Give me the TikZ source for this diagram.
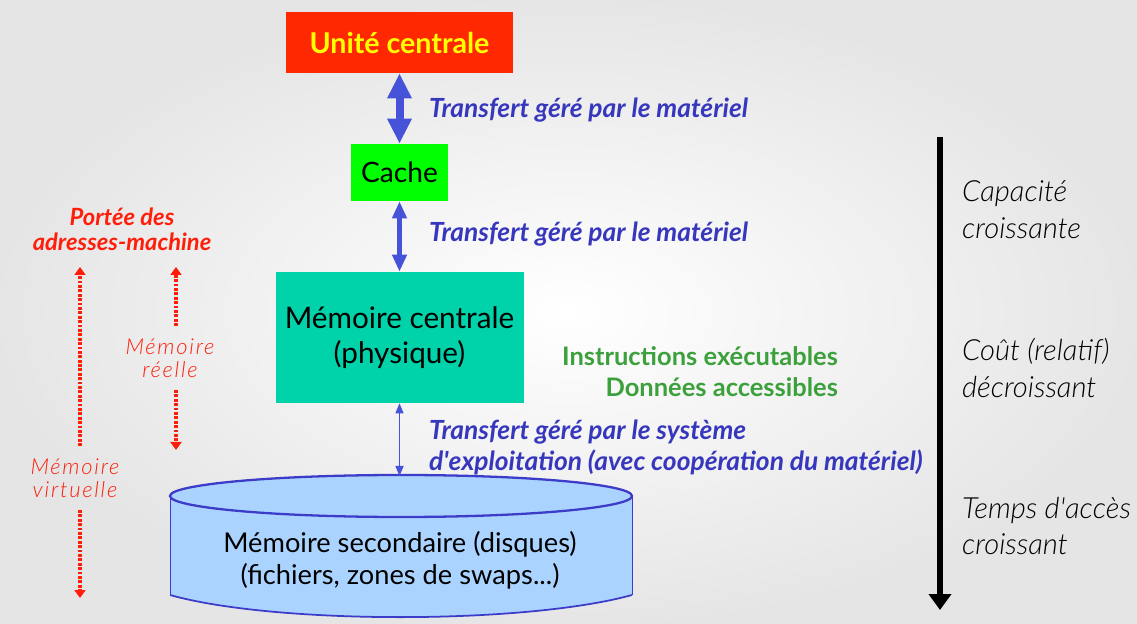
\documentclass[tikz,border=0pt]{standalone}
\usepackage{fontspec}
\setmainfont{Lato}
\newfontfamily\lightfont{Lato Light}
\usetikzlibrary{positioning,arrows.meta}
\usepackage{xcolor}
\definecolor{ucred}{RGB}{255,40,0}
\definecolor{ucyellow}{RGB}{255,255,0}
\definecolor{cachegreen}{RGB}{0,255,0}
\definecolor{mcteal}{RGB}{0,210,170}
\definecolor{transblue}{RGB}{55,55,190}
\definecolor{arrowblue}{RGB}{70,82,215}
\definecolor{instrgreen}{RGB}{60,160,60}
\definecolor{portred}{RGB}{255,30,10}
\definecolor{diskfill}{RGB}{170,212,255}
\definecolor{diskline}{RGB}{60,60,200}
\tikzset{
    level/.style = {
        rectangle,
        inner sep = 0pt,
        align = center,
    },
    transfer/.style = {
        anchor = west,
        align = left,
        inner sep = 1pt,
        text = transblue,
        font = \fontsize{15}{17.5}\selectfont\bfseries\itshape,
    },
    trend/.style = {
        anchor = west,
        align = left,
        inner sep = 1pt,
        font = \fontsize{16.6}{21}\lightfont\itshape,
    },
    addr/.style = {
        align = center,
        inner xsep = 1pt,
        inner ysep = 7pt,
        text = portred,
        font = \fontsize{12.5}{13}\lightfont\itshape\addfontfeature{LetterSpace=8},
    },
    bigarrow/.style = {
        {Triangle[width=0.46cm,length=0.5cm]}-{Triangle[width=0.46cm,length=0.5cm]},
        draw = arrowblue,
        line width = 0.16cm,
    },
    midarrow/.style = {
        {Triangle[width=0.28cm,length=0.34cm]}-{Triangle[width=0.28cm,length=0.34cm]},
        draw = arrowblue,
        line width = 0.1cm,
    },
    thinarrow/.style = {
        {Triangle[width=0.16cm,length=0.2cm]}-{Triangle[width=0.16cm,length=0.2cm]},
        draw = arrowblue,
        line width = 0.8pt,
    },
    addrarrow/.style = {
        -{Triangle[width=0.22cm,length=0.16cm]},
        draw = portred,
        line width = 1.8pt,
        dash pattern = on 1.6pt off 0.9pt,
    },
}

\begin{document}
\begin{tikzpicture}
    \useasboundingbox (0,0) rectangle (22.74,-12.48);
    \shade[inner color=white, outer color=black!10] (0,0) rectangle (22.74,-12.48);

    \node[level,fill=ucred,text=ucyellow,minimum width=4.54cm,minimum height=1.22cm,
          font=\fontsize{16.3}{20}\selectfont\bfseries] (UC) at (7.99,-0.85) {Unité centrale};
    \node[level,fill=cachegreen,minimum width=1.94cm,minimum height=1.14cm,
          font=\fontsize{16}{20}\selectfont] (Cache) at (7.99,-3.45) {Cache};
    \node[level,fill=mcteal,minimum width=4.96cm,minimum height=2.62cm,
          font=\fontsize{16.9}{20}\selectfont] (MC) at (7.99,-6.75) {Mémoire centrale\\(physique)};

    \node[transfer] (TrUC) at (8.54,-2.2) {Transfert géré par le matériel};
    \node[transfer] (TrCache) at (8.54,-4.68) {Transfert géré par le matériel};
    \node[transfer] (TrOS) at (8.54,-8.95) {Transfert géré par le système\\d\textquotesingle exploitation (avec coopération du matériel)};

    \node[anchor=east,align=right,inner sep=1pt,text=instrgreen,
          font=\fontsize{14.5}{17.5}\selectfont\bfseries] (Instr) at (16.8,-7.44) {Instructions exécutables\\Données accessibles};

    \fill[diskfill] (3.4,-9.92) -- (3.4,-11.9) .. controls (5.5,-12.49) and (10.5,-12.49) .. (12.64,-11.9) -- (12.64,-9.92) -- cycle;
    \draw[diskline,line width=0.5pt] (3.4,-9.92) -- (3.4,-11.9);
    \draw[diskline,line width=0.5pt] (12.64,-9.92) -- (12.64,-11.9);
    \draw[diskline,line width=1pt] (3.4,-11.9) .. controls (5.5,-12.49) and (10.5,-12.49) .. (12.64,-11.9);
    \draw[diskline,line width=1.3pt,fill=diskfill] (8.02,-9.92) ellipse [x radius=4.62cm, y radius=0.42cm];
    \coordinate (DiskTop) at (7.99,-9.52);
    \node[level,font=\fontsize{15.5}{18}\selectfont] (Disk) at (8.0,-11.2) {Mémoire secondaire (disques)\\(fichiers, zones de swaps...)};

    \draw[bigarrow] (UC) to (Cache);
    \draw[midarrow] (Cache) to (MC);
    \draw[thinarrow] (MC) to (DiskTop);

    \coordinate (ScaleTop) at (18.8,-2.74);
    \coordinate (ScaleBot) at (18.8,-12.2);
    \draw[-{Triangle[width=0.44cm,length=0.32cm]},line width=0.12cm] (ScaleTop) -- (ScaleBot);
    \node[trend] (Capa) at (19.2,-4.2) {Capacité\\croissante};
    \node[trend] (Cout) at (19.2,-7.36) {Coût (relatif)\\décroissant};
    \node[trend] (Temps) at (19.2,-10.52) {Temps d\textquotesingle accès\\croissant};

    \node[align=center,inner sep=2pt,text=portred,font=\fontsize{13.5}{14}\selectfont\bfseries\itshape]
          (Portee) at (2.44,-4.59) {Portée des\\adresses-machine};
    \node[addr] (MV) at (1.5,-9.56) {Mémoire\\virtuelle};
    \node[addr] (MR) at (3.4,-7.16) {Mémoire\\réelle};
    \coordinate (MVtop) at (1.6,-5.34);
    \coordinate (MVbot) at (1.6,-11.96);
    \coordinate (MRtop) at (3.52,-5.34);
    \coordinate (MRbot) at (3.52,-9.0);
    \draw[addrarrow] (MV.north -| MVtop) -- (MVtop);
    \draw[addrarrow] (MV.south -| MVbot) -- (MVbot);
    \draw[addrarrow] (MR.north -| MRtop) -- (MRtop);
    \draw[addrarrow] (MR.south -| MRbot) -- (MRbot);
\end{tikzpicture}
\end{document}
